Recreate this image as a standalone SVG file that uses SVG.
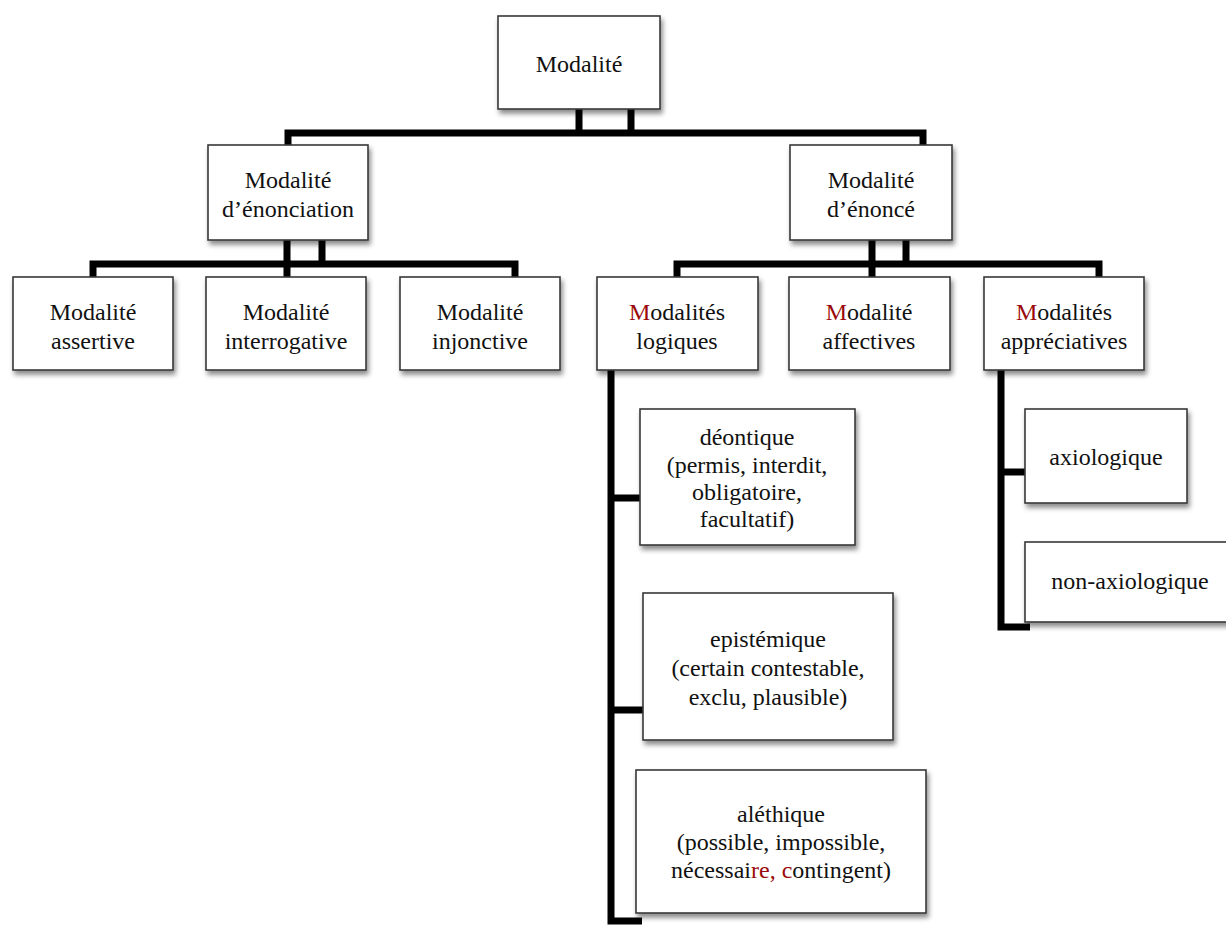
<svg xmlns="http://www.w3.org/2000/svg" width="1226" height="926" viewBox="0 0 1226 926">
<style>
.box{fill:#fff;stroke:#3a3a3a;stroke-width:1.6;filter:url(#sh)}
.t{font-family:'Liberation Serif','Times New Roman','DejaVu Serif',serif;font-size:24px;fill:#111;text-anchor:middle}
.r{fill:#9b0a0a}
.c{stroke:#000;stroke-width:7;fill:none;stroke-linejoin:miter;stroke-linecap:butt}
</style>
<defs>
<filter id="sh" x="-10%" y="-10%" width="130%" height="130%">
<feDropShadow dx="2" dy="4" stdDeviation="2.5" flood-color="#000" flood-opacity="0.45"/>
</filter>
</defs>
<rect width="1226" height="926" fill="#fff"/>
<g id="connectors">
<path class="c" d="M579,109 V133 M631,109 V133 M288,145 V133 H923 V145"/>
<path class="c" d="M93,277 V264 H515 V277 M287,240 V277 M322,240 V264"/>
<path class="c" d="M677,277 V264 H1099 V277 M872,240 V277 M906,240 V264"/>
<path class="c" d="M611,370 V921 H642 M611,498 H641 M611,710 H644"/>
<path class="c" d="M1001,370 V627 H1030 M1001,472 H1026"/>
</g>
<g font-family="Liberation Serif, Times New Roman, DejaVu Serif, serif">
<g id="n-modalite">
<rect class="box" x="498" y="16" width="162" height="93"/>
<text class="t" x="579" y="72">Modalité</text>
</g>
<g id="n-enonciation">
<rect class="box" x="208" y="145" width="160" height="95"/>
<text class="t" x="288" y="188">Modalité</text>
<text class="t" x="288" y="217">d’énonciation</text>
</g>
<g id="n-enonce">
<rect class="box" x="790" y="145" width="162" height="95"/>
<text class="t" x="871" y="188">Modalité</text>
<text class="t" x="871" y="217">d’énoncé</text>
</g>
<g id="n-assertive">
<rect class="box" x="13" y="277" width="160" height="93"/>
<text class="t" x="93" y="320">Modalité</text>
<text class="t" x="93" y="349">assertive</text>
</g>
<g id="n-interrogative">
<rect class="box" x="206" y="277" width="160" height="93"/>
<text class="t" x="286" y="320">Modalité</text>
<text class="t" x="286" y="349">interrogative</text>
</g>
<g id="n-injonctive">
<rect class="box" x="400" y="277" width="160" height="93"/>
<text class="t" x="480" y="320">Modalité</text>
<text class="t" x="480" y="349">injonctive</text>
</g>
<g id="n-logiques">
<rect class="box" x="597" y="277" width="161" height="93"/>
<text class="t" x="677" y="320"><tspan class="r">M</tspan>odalités</text>
<text class="t" x="677" y="349">logiques</text>
</g>
<g id="n-affectives">
<rect class="box" x="789" y="277" width="161" height="93"/>
<text class="t" x="869" y="320"><tspan class="r">M</tspan>odalité</text>
<text class="t" x="869" y="349">affectives</text>
</g>
<g id="n-appreciatives">
<rect class="box" x="984" y="277" width="160" height="93"/>
<text class="t" x="1064" y="320"><tspan class="r">M</tspan>odalités</text>
<text class="t" x="1064" y="349">appréciatives</text>
</g>
<g id="n-deontique">
<rect class="box" x="640" y="409" width="215" height="136"/>
<text class="t" x="747" y="445">déontique</text>
<text class="t" x="747" y="473">(permis, interdit,</text>
<text class="t" x="747" y="500">obligatoire,</text>
<text class="t" x="747" y="527">facultatif)</text>
</g>
<g id="n-epistemique">
<rect class="box" x="643" y="593" width="250" height="147"/>
<text class="t" x="768" y="647">epistémique</text>
<text class="t" x="768" y="676">(certain contestable,</text>
<text class="t" x="768" y="705">exclu, plausible)</text>
</g>
<g id="n-alethique">
<rect class="box" x="636" y="770" width="290" height="143"/>
<text class="t" x="781" y="822">aléthique</text>
<text class="t" x="781" y="850">(possible, impossible,</text>
<text class="t" x="781" y="878">nécessai<tspan class="r">re, c</tspan>ontingent)</text>
</g>
<g id="n-axiologique">
<rect class="box" x="1025" y="409" width="162" height="94"/>
<text class="t" x="1106" y="465">axiologique</text>
</g>
<g id="n-nonaxiologique">
<rect class="box" x="1025" y="542" width="210" height="80"/>
<text class="t" x="1130" y="589">non-axiologique</text>
</g>
</g>
</svg>
